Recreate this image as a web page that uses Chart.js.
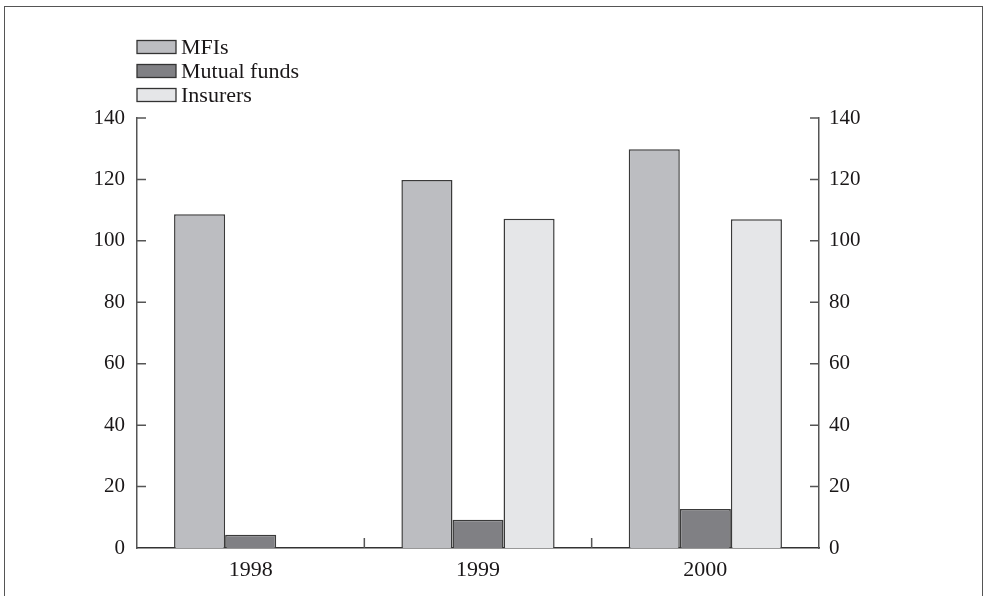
<!DOCTYPE html>
<html>
<head>
<meta charset="utf-8">
<script src="https://cdn.jsdelivr.net/npm/chart.js@4"></script>
<style>
  body { margin: 0; background: #fff; overflow: hidden; }
  #frame {
    position: absolute; left: 4px; top: 6px; width: 977px; height: 640px;
    border: 1.5px solid #555;
  }
  canvas { position: absolute; left: 0; top: 0; }
</style>
</head>
<body>
<div id="frame"></div>
<canvas id="bars" width="987" height="596"></canvas>
<script>
const years = ["1998", "1999", "2000"];
const mfis = [108.7, 119.8, 129.8];
const mutualFunds = [4.3, 9.2, 12.7];
const insurers = [null, 107.2, 107.0];

const seriesNames = ["MFIs", "Mutual funds", "Insurers"];
const seriesColors = ["#bcbdc1", "#808084", "#e5e6e8"];

const fontFamily = "'Liberation Serif', 'Times New Roman', serif";
const textColor = "#1a1718";

// ticks drawn inward, plus the separators between years
const innerTicks = {
  id: "innerTicks",
  afterDraw(chart) {
    const ctx = chart.ctx;
    const { left, right, bottom } = chart.chartArea;
    const yScale = chart.scales.y;
    const xScale = chart.scales.x;

    ctx.save();
    ctx.strokeStyle = "#555";
    ctx.lineWidth = 1.5;
    ctx.beginPath();
    yScale.ticks.forEach((tick) => {
      const y = yScale.getPixelForValue(tick.value);
      if (tick.value === 0) return;
      ctx.moveTo(left, y);
      ctx.lineTo(left + 9, y);
      ctx.moveTo(right - 9, y);
      ctx.lineTo(right, y);
    });
    for (let i = 0; i < years.length - 1; i++) {
      const x = (xScale.getPixelForValue(i) + xScale.getPixelForValue(i + 1)) / 2;
      ctx.moveTo(x, bottom);
      ctx.lineTo(x, bottom - 10);
    }
    ctx.stroke();
    ctx.restore();
  },
};

const stackedLegend = {
  id: "stackedLegend",
  afterDraw(chart) {
    const ctx = chart.ctx;
    const left = chart.chartArea.left;
    ctx.save();
    ctx.font = "22px " + fontFamily;
    ctx.textBaseline = "middle";
    chart.data.datasets.forEach((dataset, i) => {
      const y = 47 + i * 24;
      ctx.fillStyle = dataset.backgroundColor;
      ctx.fillRect(left, y - 6.5, 39, 13);
      ctx.strokeStyle = "#333";
      ctx.lineWidth = 1.3;
      ctx.strokeRect(left, y - 6.5, 39, 13);
      ctx.fillStyle = textColor;
      ctx.fillText(dataset.label, left + 44, y + 1);
    });
    ctx.restore();
  },
};

function buildDatasets() {
  const values = [mfis, mutualFunds, insurers];
  return seriesNames.map((name, i) => {
    return {
      label: name,
      data: values[i],
      backgroundColor: seriesColors[i],
      borderColor: "#3a3a3a",
      borderWidth: 1.5,
      borderSkipped: "bottom",
      categoryPercentage: 0.674,
      barPercentage: 1,
    };
  });
}

function valueAxis(position, width, padding) {
  return {
    position: position,
    min: 0,
    max: 140,
    ticks: {
      stepSize: 20,
      padding: padding,
      color: textColor,
      font: { family: fontFamily, size: 21 },
    },
    grid: { display: false, drawTicks: false },
    border: { display: true, color: "#555", width: 1.5 },
    afterFit: (scale) => {
      scale.width = width;
    },
  };
}

function drawChart() {
  const barChart = document.getElementById("bars").getContext("2d");
  new Chart(barChart, {
    type: "bar",
    data: {
      labels: years,
      datasets: buildDatasets(),
    },
    options: {
      responsive: false,
      animation: false,
      layout: { padding: { top: 118, left: 0, right: 0, bottom: 0 } },
      plugins: {
        legend: { display: false },
        tooltip: { enabled: false },
      },
      scales: {
        x: {
          offset: true,
          ticks: {
            padding: 9,
            color: textColor,
            font: { family: fontFamily, size: 22 },
          },
          grid: { display: false, drawTicks: false },
          border: { display: true, color: "#333", width: 1.5 },
          afterFit: (scale) => {
            scale.height = 48;
          },
        },
        y: valueAxis("left", 137, 12),
        y2: valueAxis("right", 168, 10),
      },
    },
    plugins: [innerTicks, stackedLegend],
  });
}

drawChart();
</script>
</body>
</html>
